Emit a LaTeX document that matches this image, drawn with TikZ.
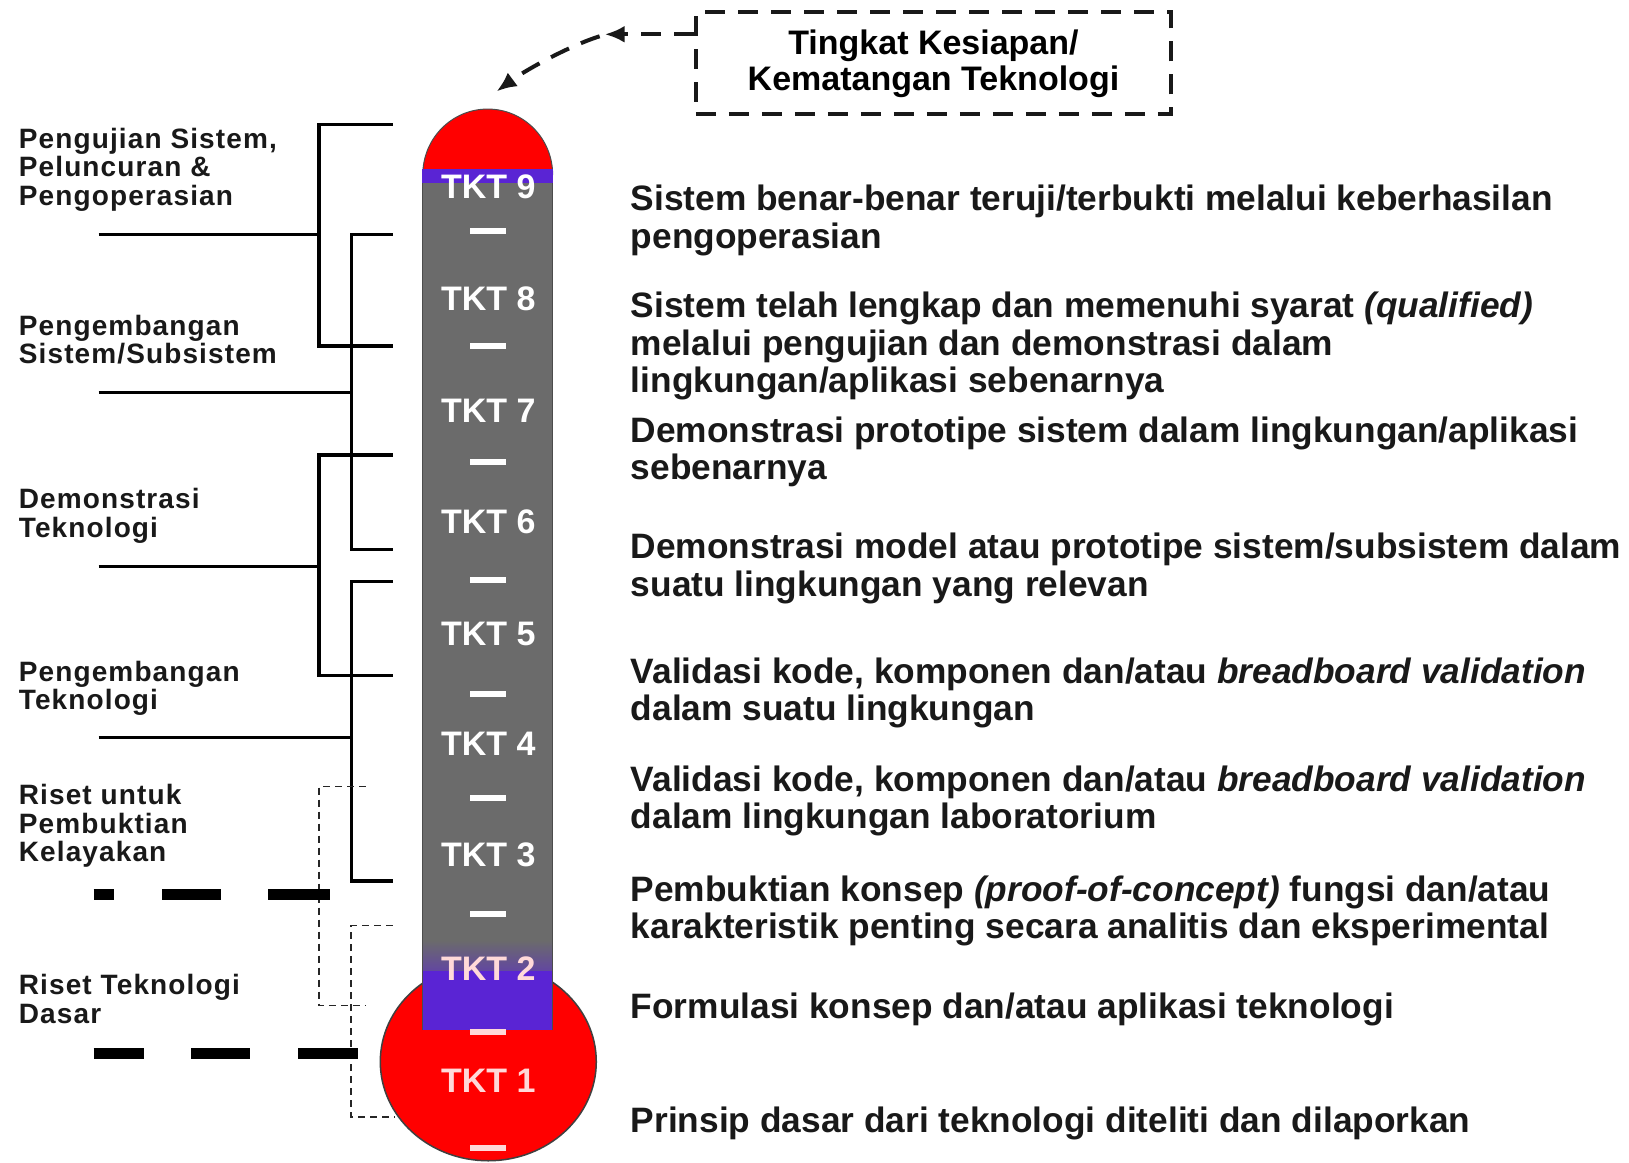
\documentclass[tikz,border=0pt]{standalone}
\usepackage{fontspec}
\setmainfont{Liberation Sans}
\newfontfamily\lblfont[LetterSpace=4]{Liberation Sans}
\usetikzlibrary{arrows.meta}
\definecolor{tred}{RGB}{255,0,0}
\definecolor{tgray}{RGB}{107,107,107}
\definecolor{tpurple}{RGB}{90,36,212}
\begin{document}
\begin{tikzpicture}[x=1.039pt,y=-1.039pt,
  lbl/.style={font=\lblfont\bfseries\fontsize{28pt}{28.5pt}\selectfont, align=left, anchor=north west, inner sep=0pt, text=black!90},
  desc/.style={font=\bfseries\fontsize{35.3pt}{37.4pt}\selectfont, align=left, anchor=north west, inner sep=0pt, text=black!90},
  tkt/.style={font=\bfseries\fontsize{34pt}{34pt}\selectfont, text=white, inner sep=0pt},
  bar/.style={fill=white},
  solidlink/.style={draw=black, line width=3.2pt},
  thinlink/.style={draw=black!85, line width=1.5pt, dash pattern=on 7pt off 5pt},
  thickdash/.style={draw=black, line width=11pt},
  boxline/.style={draw=black!90, line width=4pt, dash pattern=on 20pt off 13pt},
  arr/.style={draw=black!90, line width=4pt, dash pattern=on 20pt off 13pt, -{Latex[length=20pt,width=17pt]}}
]
\useasboundingbox (0,0) rectangle (1568,1119);
\fill[white] (0,0) rectangle (1568,1119);

% bulb
\draw[fill=tred, draw=black!75, line width=1.5pt] (470,1022) ellipse [x radius=108pt, y radius=99pt];
% tube
\fill[tgray] (407,168) rectangle (532,937);
\shade[top color=tgray, bottom color=tpurple!55!tgray] (407,905) rectangle (532,937);
\fill[tpurple] (407,935) rectangle (532,991);
\draw[black!70, line width=1.2pt] (407,168) -- (407,991) (532,168) -- (532,991);
% dome
\draw[fill=tred, draw=black!70, line width=1pt] (407,168) arc[start angle=180, end angle=0, x radius=64.9pt, y radius=65.5pt] -- cycle;
\fill[tpurple] (406.5,163) rectangle (532.5,176);

% TKT labels
\node[tkt] (t9) at (470,180) {TKT 9};
\node[tkt] (t8) at (470,288) {TKT 8};
\node[tkt] (t7) at (470,395) {TKT 7};
\node[tkt] (t6) at (470,502) {TKT 6};
\node[tkt] (t5) at (470,610) {TKT 5};
\node[tkt] (t4) at (470,716) {TKT 4};
\node[tkt] (t3) at (470,823) {TKT 3};
\node[tkt, text=white!85!tred] (t2) at (470,932) {TKT 2};
\node[tkt, text=white!85!tred] (t1) at (470,1040) {TKT 1};
\foreach \y in {222,333,445,558,668,768,880} {\fill[bar] (452,\y-3) rectangle (487,\y+3);}
\fill[white!85!tred] (452,990) rectangle (487,996);
\fill[white!85!tred] (452,1102) rectangle (487,1108);

% solid brackets
\draw[solidlink] (378,120) -- (307,120) -- (307,333) -- (378,333);
\draw[solidlink] (95,226) -- (307,226);
\draw[solidlink] (378,226) -- (338,226) -- (338,529) -- (378,529);
\draw[solidlink] (95,378) -- (338,378);
\draw[solidlink] (378,438) -- (307,438) -- (307,650) -- (378,650);
\draw[solidlink] (95,545) -- (307,545);
\draw[solidlink] (378,560) -- (338,560) -- (338,848) -- (378,848);
\draw[solidlink] (95,710) -- (338,710);
% dashed brackets
\draw[thinlink] (352,757) -- (307,757) -- (307,968) -- (352,968);
\draw[thinlink] (378,891) -- (338,891) -- (338,1075) -- (380,1075);
\draw[thickdash] (90,861) -- (110,861) (156,861) -- (213,861) (258,861) -- (318,861);
\draw[thickdash] (90,1014) -- (139,1014) (184,1014) -- (241,1014) (287,1014) -- (345,1014);

% left labels
\node[lbl] (l1) at (18,123) {Pengujian Sistem,\\Peluncuran \&\\Pengoperasian};
\node[lbl] (l2) at (18,303) {Pengembangan\\Sistem/Subsistem};
\node[lbl] (l3) at (18,470) {Demonstrasi\\Teknologi};
\node[lbl] (l4) at (18,636) {Pengembangan\\Teknologi};
\node[lbl] (l5) at (18,755) {Riset untuk\\Pembuktian\\Kelayakan};
\node[lbl] (l6) at (18,938) {Riset Teknologi\\Dasar};

% right descriptions
\node[desc] (d9) at (607,178) {Sistem benar-benar teruji/terbukti melalui keberhasilan\\pengoperasian};
\node[desc] (d8) at (607,281) {Sistem telah lengkap dan memenuhi syarat \textit{(qualified)}\\melalui pengujian dan demonstrasi dalam\\lingkungan/aplikasi sebenarnya};
\node[desc] (d7) at (607,401) {Demonstrasi prototipe sistem dalam lingkungan/aplikasi\\sebenarnya};
\node[desc] (d6) at (607,513) {Demonstrasi model atau prototipe sistem/subsistem dalam\\suatu lingkungan yang relevan};
\node[desc] (d5) at (607,633) {Validasi kode, komponen dan/atau \textit{breadboard validation}\\dalam suatu lingkungan};
\node[desc] (d4) at (607,737) {Validasi kode, komponen dan/atau \textit{breadboard validation}\\dalam lingkungan laboratorium};
\node[desc] (d3) at (607,843) {Pembuktian konsep \textit{(proof-of-concept)} fungsi dan/atau\\karakteristik penting secara analitis dan eksperimental};
\node[desc] (d2) at (607,956) {Formulasi konsep dan/atau aplikasi teknologi};
\node[desc] (d1) at (607,1065) {Prinsip dasar dari teknologi diteliti dan dilaporkan};

% top box
\node[boxline, minimum width=475pt, minimum height=102pt, inner sep=0pt, align=center,
  font=\bfseries\fontsize{34pt}{36pt}\selectfont] (box) at (898.5,61) {Tingkat Kesiapan/\\Kematangan Teknologi};
\coordinate (a1) at (582,33);
\coordinate (a2) at (478,88);
\draw[arr] (box.west |- a1) -- (a1);
\draw[arr] ([xshift=-5pt,yshift=-2pt]a1) .. controls (548,44) and (505,68) .. (a2);
\end{tikzpicture}
\end{document}
